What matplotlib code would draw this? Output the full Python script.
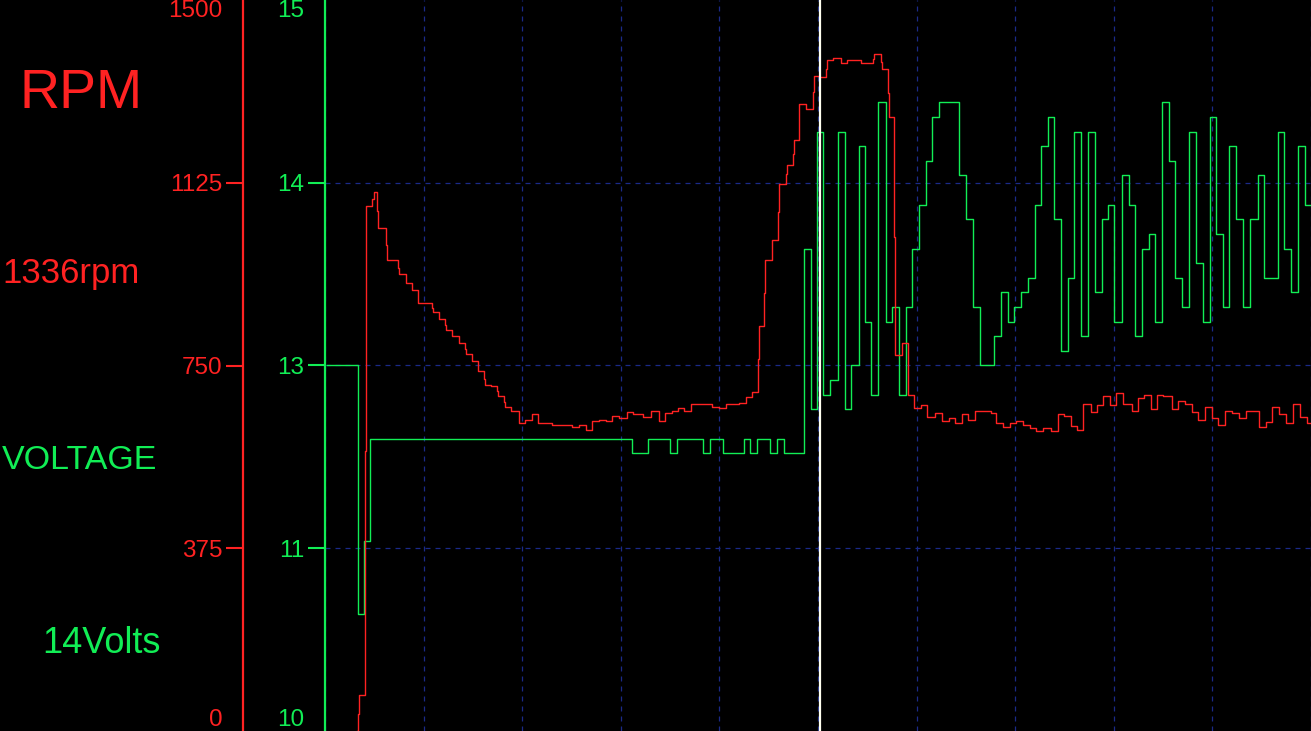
import matplotlib
matplotlib.use('Agg')
import matplotlib.pyplot as plt
from matplotlib.ticker import MultipleLocator

plt.rcParams['font.family'] = ['Liberation Sans', 'DejaVu Sans']

RED = '#ff2222'
GREEN = '#11ee55'
GRID = '#1b2a88'

# time in logger samples, voltage in volts (steps, value held until next sample)
volt_t = [2, 33, 39, 45, 307, 323, 345, 352, 378, 385, 398, 419, 425, 432, 445, 452,
          459, 479, 486, 492, 498, 505, 513, 520, 526, 534, 540, 546, 553, 561, 567, 574,
          581, 587, 594, 601, 607, 614, 634, 641, 648, 655, 669, 676, 683, 689, 696, 703,
          710, 716, 723, 729, 736, 743, 749, 756, 763, 770, 777, 783, 789, 797, 804, 810,
          817, 824, 830, 837, 844, 850, 857, 864, 871, 878, 885, 891, 898, 904, 911, 918,
          925, 933, 939, 953, 959, 966, 973, 980, 986]
volt_v = [12.5, 10.8, 11.3, 12.0, 11.9, 12.0, 11.9, 12.0, 11.9, 12.0, 11.9, 12.0, 11.9, 12.0, 11.9, 12.0,
          11.9, 13.3, 12.2, 14.1, 12.3, 12.4, 14.1, 12.2, 12.5, 14.0, 12.8, 12.3, 14.3, 12.8, 12.9, 12.3,
          12.9, 13.3, 13.6, 13.9, 14.2, 14.3, 13.8, 13.5, 12.9, 12.5, 12.7, 13.0, 12.8, 12.9, 13.0, 13.1,
          13.6, 14.0, 14.2, 13.5, 12.6, 13.1, 14.1, 12.7, 14.1, 13.0, 13.5, 13.6, 12.8, 13.8, 13.6, 12.7,
          13.3, 13.4, 12.8, 14.3, 13.9, 13.1, 12.9, 14.1, 13.2, 12.8, 14.2, 13.4, 12.9, 14.0, 13.5, 12.9,
          13.5, 13.8, 13.1, 14.1, 13.3, 13.0, 14.0, 13.6, 13.6]

rpm_t = [32, 33, 34, 40, 41, 47, 49, 52, 53, 61, 62, 73, 74, 81, 87, 93, 107,
         108, 114, 120, 121, 127, 134, 140, 141, 147, 153, 159, 160, 166, 172, 173, 179,
         180, 186, 194, 200, 207, 213, 221, 227, 247, 254, 261, 267, 274, 281, 287, 294,
         302, 308, 318, 326, 334, 340, 347, 353, 359, 366, 374, 381, 387, 394, 401, 407,
         414, 421, 427, 433, 434, 439, 440, 447, 453, 454, 461, 462, 468, 469, 474, 481,
         488, 489, 494, 501, 502, 508, 516, 522, 536, 548, 549, 556, 557, 563, 564, 569,
         570, 577, 583, 589, 596, 602, 610, 617, 624, 630, 637, 643, 650, 666, 671, 678,
         685, 691, 698, 705, 711, 718, 726, 733, 739, 746, 752, 758, 766, 772, 778, 785,
         791, 798, 807, 813, 819, 826, 832, 838, 847, 853, 860, 867, 873, 880, 887, 893,
         900, 907, 914, 921, 934, 941, 947, 954, 961, 968, 975, 982, 986]
rpm_v = [0, 35, 74, 575, 1077, 1091, 1105, 1067, 1032, 997, 966, 951, 937, 919, 905, 878, 868,
         859, 845, 834, 822, 810, 796, 784, 773, 759, 738, 722, 709, 707, 698, 687, 675,
         664, 657, 633, 638, 650, 633, 631, 628, 624, 627, 617, 636, 638, 636, 646, 642,
         654, 650, 644, 656, 636, 652, 656, 662, 656, 672, 670, 672, 664, 662, 670, 672,
         674, 685, 695, 763, 832, 898, 966, 1007, 1065, 1123, 1142, 1161, 1185, 1212, 1286, 1276,
         1311, 1345, 1341, 1358, 1376, 1382, 1371, 1376, 1371, 1379, 1389, 1373, 1358, 1309, 1259, 1014,
         772, 796, 689, 662, 669, 644, 652, 636, 642, 631, 650, 638, 656, 652, 633, 624,
         631, 637, 628, 621, 616, 621, 616, 650, 646, 626, 618, 672, 654, 669, 687, 669,
         693, 670, 656, 683, 689, 660, 689, 688, 660, 678, 672, 654, 638, 664, 642, 628,
         656, 652, 642, 656, 624, 634, 664, 650, 633, 672, 644, 633, 633]

cursor_t = 495

rpm_ticks = [0, 375, 750, 1125, 1500]
rpm_labels = ['0', '375', '750', '1125', '1500']
volt_ticks = [10, 11.25, 12.5, 13.75, 15]
volt_labels = ['10', '11', '13', '14', '15']

fig = plt.figure(figsize=(13.11, 7.31), dpi=100, facecolor='black')
ax = fig.add_axes([325 / 1311, 0, 986 / 1311, 1])
ax.set_facecolor('black')
ax_rpm = ax.twinx()

ax.set_xlim(0, 986)
ax.set_ylim(10, 15)
ax_rpm.set_ylim(0, 1500)

# grid
ax.xaxis.set_major_locator(MultipleLocator(98.6))
ax.tick_params(axis='x', length=0, labelbottom=False)
ax.grid(True, color=GRID, linestyle=(0, (4, 4)), linewidth=0.9)
ax.set_axisbelow(True)

# voltage axis
ax.set_yticks(volt_ticks, volt_labels)
ax.tick_params(axis='y', colors=GREEN, length=12, width=1.5, labelsize=17.5, pad=3)
for s in ['top', 'right', 'bottom']:
    ax.spines[s].set_visible(False)
ax.spines['left'].set_color(GREEN)
ax.spines['left'].set_linewidth(1.6)

# rpm axis moved to the left
ax_rpm.yaxis.tick_left()
ax_rpm.yaxis.set_label_position('left')
ax_rpm.set_yticks(rpm_ticks, rpm_labels)
ax_rpm.tick_params(axis='y', colors=RED, length=12, width=1.5, labelsize=17.5, pad=3)
for s in ['top', 'right', 'bottom']:
    ax_rpm.spines[s].set_visible(False)
ax_rpm.spines['left'].set_position(('outward', 59))
ax_rpm.spines['left'].set_color(RED)
ax_rpm.spines['left'].set_linewidth(1.6)

# end ticks sit on the frame edge: label only, no tick mark or grid line
for a in (ax, ax_rpm):
    labels = a.get_yticklabels()
    labels[0].set_va('bottom')
    labels[-1].set_va('top')
    ticks = a.yaxis.get_major_ticks()
    for tk in (ticks[0], ticks[-1]):
        tk.tick1line.set_visible(False)
        tk.gridline.set_visible(False)

ax.step(volt_t, volt_v, where='post', color=GREEN, lw=1.0)
ax_rpm.step(rpm_t, rpm_v, where='post', color=RED, lw=1.0)
ax_rpm.axvline(cursor_t, color='#fffff0', lw=1.6, zorder=5)

# readouts on the left
fig.text(20 / 1311, 1 - 108 / 731, 'RPM', color=RED, fontsize=40, va='baseline')
fig.text(2 / 1311, 1 - 283 / 731, '1336rpm', color=RED, fontsize=25, va='baseline')
fig.text(2 / 1311, 1 - 469 / 731, 'VOLTAGE', color=GREEN, fontsize=24.5, va='baseline')
fig.text(42 / 1311, 1 - 653 / 731, '14Volts', color=GREEN, fontsize=26, va='baseline')

fig.savefig('out.png', dpi=100, facecolor='black')
